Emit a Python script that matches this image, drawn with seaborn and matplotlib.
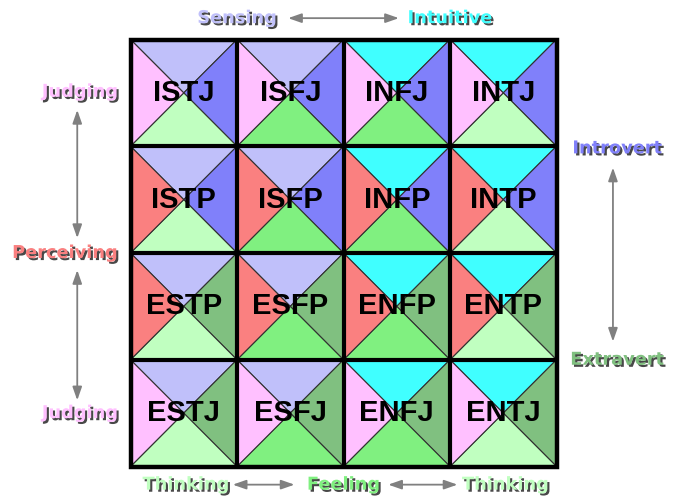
import matplotlib
matplotlib.use("Agg")
import matplotlib.pyplot as plt
import matplotlib.patheffects as pe
from matplotlib.patches import Polygon, Rectangle
import seaborn as sns

# ---- data ----
row_prefs = [("I", "J"), ("I", "P"), ("E", "P"), ("E", "J")]   # (attitude, lifestyle) per row
col_prefs = [("S", "T"), ("S", "F"), ("N", "F"), ("N", "T")]   # (perception, judgement) per column
pref_colors = {
    "S": "#c0c0fa", "N": "#40ffff",
    "I": "#8080fa", "E": "#80c080",
    "T": "#c0ffc0", "F": "#80f080",
    "J": "#ffc0ff", "P": "#fa8080",
}
top_labels = ["Sensing", "Intuitive"]
bottom_labels = ["Thinking", "Feeling", "Thinking"]
left_labels = ["Judging", "Perceiving", "Judging"]
right_labels = ["Introvert", "Extravert"]

sns.set_style("white")
plt.rcParams["font.family"] = ["DejaVu Sans"]

fig = plt.figure(figsize=(6.8, 5.0), dpi=100)
fig.patch.set_facecolor("white")
W, H = 680, 500
ax = fig.add_axes([130.5 / W, 1 - 466.5 / H, 426 / W, 427 / H])
ax.set_xlim(0, 4)
ax.set_ylim(4, 0)
ax.axis("off")

nrows, ncols = len(row_prefs), len(col_prefs)
for r, (att, life) in enumerate(row_prefs):
    for c, (perc, judg) in enumerate(col_prefs):
        cx, cy = c + 0.5, r + 0.5
        tris = [
            ([(c, r), (c + 1, r), (cx, cy)], pref_colors[perc]),          # top
            ([(c + 1, r), (c + 1, r + 1), (cx, cy)], pref_colors[att]),   # right
            ([(c, r + 1), (c + 1, r + 1), (cx, cy)], pref_colors[judg]),  # bottom
            ([(c, r), (c, r + 1), (cx, cy)], pref_colors[life]),          # left
        ]
        for pts, col in tris:
            ax.add_patch(Polygon(pts, closed=True, facecolor=col,
                                 edgecolor="#303030", linewidth=0.8))
        code = att + perc + judg + life
        ax.text(cx, cy, code, ha="center", va="center",
                fontsize=21, fontweight="bold", family=["Liberation Sans"],
                color="black", zorder=5)

for k in range(1, ncols):
    ax.plot([k, k], [0, nrows], color="black", lw=3.0, solid_capstyle="butt", zorder=6)
for k in range(1, nrows):
    ax.plot([0, ncols], [k, k], color="black", lw=3.0, solid_capstyle="butt", zorder=6)
ax.add_patch(Rectangle((0, 0), ncols, nrows, fill=False, edgecolor="black",
                       lw=3.2, zorder=7, clip_on=False))

shadow = [pe.SimplePatchShadow(offset=(1.5, -1.5), shadow_rgbFace="#282828", alpha=0.85),
          pe.Normal()]


def label(x, y, s, pref, ha="center"):
    ax.text(x, y, s, ha=ha, va="center", fontsize=12.8, fontweight="bold",
            color=pref_colors[pref], path_effects=shadow, clip_on=False, zorder=8)


def arrow(x0, y0, x1, y1):
    ax.annotate("", xy=(x1, y1), xytext=(x0, y0), annotation_clip=False,
                arrowprops=dict(arrowstyle="<|-|>,head_length=0.8,head_width=0.28",
                                color="#808080", lw=1.3, shrinkA=0, shrinkB=0))


# top
label(1.0, -0.2, top_labels[0], "S")
label(3.0, -0.2, top_labels[1], "N")
arrow(1.48, -0.2, 2.52, -0.2)
# bottom
label(0.52, 4.17, bottom_labels[0], "T")
label(2.0, 4.17, bottom_labels[1], "F")
label(3.52, 4.17, bottom_labels[2], "T")
arrow(0.96, 4.17, 1.54, 4.17)
arrow(2.42, 4.17, 3.07, 4.17)
# left
label(-0.12, 0.49, left_labels[0], "J", ha="right")
label(-0.12, 2.0, left_labels[1], "P", ha="right")
label(-0.12, 3.5, left_labels[2], "J", ha="right")
arrow(-0.5, 0.66, -0.5, 1.86)
arrow(-0.5, 2.16, -0.5, 3.38)
# right
label(4.57, 1.02, right_labels[0], "I")
label(4.57, 3.0, right_labels[1], "E")
arrow(4.53, 1.2, 4.53, 2.83)

fig.savefig("out.png", dpi=100)
